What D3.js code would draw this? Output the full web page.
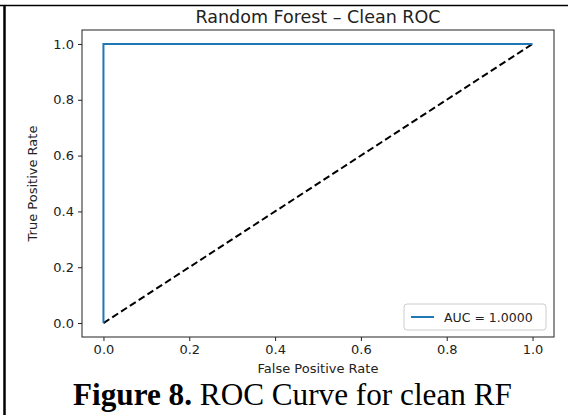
<!DOCTYPE html>
<html>
<head>
<meta charset="utf-8">
<script src="https://cdn.jsdelivr.net/npm/d3@7"></script>
<style>
  body { margin: 0; background: #fff; }
  svg { display: block; }
</style>
</head>
<body>
<svg width="568" height="415"></svg>
<script>
// ROC data
var fpr = [0, 0, 1];
var tpr = [0, 1, 1];
var chance = [0, 1];
var ticks = [0, 0.2, 0.4, 0.6, 0.8, 1.0];
var legendLabel = "AUC = 1.0000";

var svg = d3.select("svg"),
	width = +svg.attr("width"),
	height = +svg.attr("height");

// outer page frame
svg.append("line").attr("x1", 0).attr("x2", width).attr("y1", 5.5).attr("y2", 5.5)
	.attr("stroke", "#000").attr("stroke-width", 1.5);
svg.append("line").attr("x1", 4.5).attr("x2", 4.5).attr("y1", 5).attr("y2", height)
	.attr("stroke", "#000").attr("stroke-width", 2.5);

var plot = {left: 82, right: 554, top: 30, bottom: 337};

var x = d3.scaleLinear().domain([-0.05, 1.05]).range([plot.left, plot.right]);
var y = d3.scaleLinear().domain([-0.05, 1.05]).range([plot.bottom, plot.top]);

var font = "DejaVu Sans, sans-serif";
var fs = 13;

// axes
var xAxis = svg.append("g")
	.attr("transform", "translate(0," + plot.bottom + ")")
	.call(d3.axisBottom(x).tickValues(ticks).tickFormat(d3.format(".1f")).tickSizeOuter(0).tickSize(4).tickPadding(4));
var yAxis = svg.append("g")
	.attr("transform", "translate(" + plot.left + ",0)")
	.call(d3.axisLeft(y).tickValues(ticks).tickFormat(d3.format(".1f")).tickSizeOuter(0).tickSize(4).tickPadding(4));
[xAxis, yAxis].forEach(function(g) {
	g.select(".domain").remove();
	g.selectAll("text").attr("font-family", font).attr("font-size", fs).attr("fill", "#222");
	g.selectAll("line").attr("stroke", "#222");
});

// spines
svg.append("rect")
	.attr("x", plot.left).attr("y", plot.top)
	.attr("width", plot.right - plot.left).attr("height", plot.bottom - plot.top)
	.attr("fill", "none").attr("stroke", "#222").attr("stroke-width", 1);

var line = d3.line().x(function(d) { return x(d[0]); }).y(function(d) { return y(d[1]); });

// chance line
svg.append("path")
	.datum(d3.zip(chance, chance))
	.attr("d", line)
	.attr("fill", "none").attr("stroke", "#000")
	.attr("stroke-width", 2).attr("stroke-dasharray", "7,3.5");

// ROC curve
svg.append("path")
	.datum(d3.zip(fpr, tpr))
	.attr("d", line)
	.attr("fill", "none").attr("stroke", "#1f77b4")
	.attr("stroke-width", 2);

// title and labels
svg.append("text")
	.attr("x", (plot.left + plot.right) / 2).attr("y", 23)
	.attr("text-anchor", "middle")
	.attr("font-family", font).attr("font-size", 17.5).attr("fill", "#222")
	.text("Random Forest \u2013 Clean ROC");

svg.append("text")
	.attr("x", (plot.left + plot.right) / 2).attr("y", 373)
	.attr("text-anchor", "middle")
	.attr("font-family", font).attr("font-size", fs).attr("fill", "#222")
	.text("False Positive Rate");

svg.append("text")
	.attr("transform", "translate(37," + (plot.top + plot.bottom) / 2 + ") rotate(-90)")
	.attr("text-anchor", "middle")
	.attr("font-family", font).attr("font-size", fs).attr("fill", "#222")
	.text("True Positive Rate");

// legend
var lg = svg.append("g").attr("transform", "translate(404,304)");
lg.append("rect")
	.attr("width", 142).attr("height", 26).attr("rx", 3)
	.attr("fill", "#fff").attr("fill-opacity", 0.8)
	.attr("stroke", "#ccc").attr("stroke-width", 1);
lg.append("line")
	.attr("x1", 7).attr("x2", 30).attr("y1", 13).attr("y2", 13)
	.attr("stroke", "#1f77b4").attr("stroke-width", 2);
lg.append("text")
	.attr("x", 40).attr("y", 17.5)
	.attr("font-family", font).attr("font-size", 12.5).attr("fill", "#222")
	.text(legendLabel);

// caption under the figure
var cap = svg.append("text")
	.attr("x", 73).attr("y", 405)
	.attr("font-family", "Liberation Serif, serif").attr("font-size", 26).attr("fill", "#000");
cap.append("tspan").attr("font-weight", "bold").text("Figure 8.");
cap.append("tspan").text(" ROC Curve for clean RF");
var w = cap.node().getComputedTextLength();
cap.attr("font-size", 26 * 439 / w);
</script>
</body>
</html>
